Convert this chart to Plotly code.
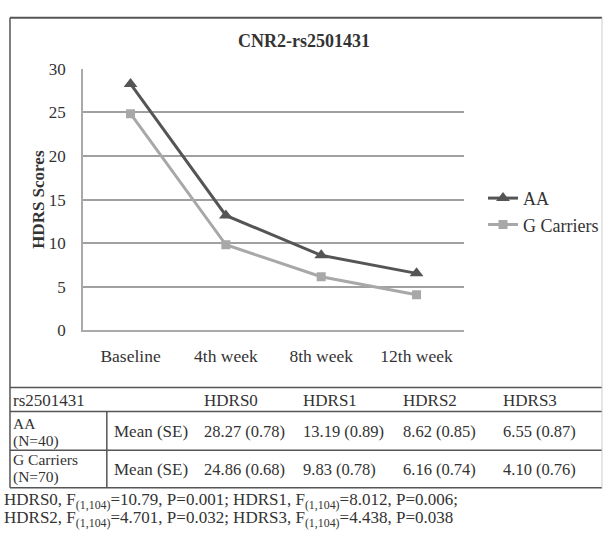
import plotly.graph_objects as go

# ---- data ----
categories = ["Baseline", "4th week", "8th week", "12th week"]
aa_mean = [28.27, 13.19, 8.62, 6.55]
aa_se = [0.78, 0.89, 0.85, 0.87]
gc_mean = [24.86, 9.83, 6.16, 4.10]
gc_se = [0.68, 0.78, 0.74, 0.76]
table_cols = ["HDRS0", "HDRS1", "HDRS2", "HDRS3"]
f_values = ["10.79", "8.012", "4.701", "4.438"]
p_values = ["0.001", "0.006", "0.032", "0.038"]
y_ticks = [0, 5, 10, 15, 20, 25, 30]

W, H = 604, 550
FONT = "Liberation Serif"
TXT = "#333333"


def px(x):
    return x / W


def py(y):
    return 1 - y / H


fig = go.Figure()
fig.add_trace(go.Scatter(
    x=categories, y=aa_mean, name="AA", mode="lines+markers",
    line=dict(color="#555555", width=3),
    marker=dict(symbol="triangle-up", size=12, color="#555555"),
))
fig.add_trace(go.Scatter(
    x=categories, y=gc_mean, name="G Carriers", mode="lines+markers",
    line=dict(color="#a8a8a8", width=3),
    marker=dict(symbol="square", size=9, color="#a8a8a8"),
))

shapes = []
annots = []
line_c = "#555555"


def hline(y, x0=10, x1=603, color=line_c, w=1.5):
    shapes.append(dict(type="line", xref="paper", yref="paper",
                       x0=px(x0), x1=px(x1), y0=py(y), y1=py(y),
                       line=dict(color=color, width=w)))


def vline(x, y0, y1, color=line_c, w=1.5):
    shapes.append(dict(type="line", xref="paper", yref="paper",
                       x0=px(x), x1=px(x), y0=py(y0), y1=py(y1),
                       line=dict(color=color, width=w)))


hline(9, w=2)
for yy in [392, 417, 457, 496]:
    hline(yy)
vline(10, 9, 496)
vline(603, 9, 496, color="#cccccc", w=1)
vline(107, 417, 496)


def text(x, y, s, size=16, xanchor="left", bold=False):
    annots.append(dict(xref="paper", yref="paper", x=px(x), y=py(y),
                       text=f"<b>{s}</b>" if bold else s, showarrow=False,
                       xanchor=xanchor, yanchor="middle", borderpad=0,
                       font=dict(family=FONT, size=size, color=TXT)))


text(305, 33, "CNR2-rs2501431", size=18, xanchor="center", bold=True)

text(12, 405, "rs2501431", size=17)
col_x = [203, 303, 403, 503]
for cx, c in zip(col_x, table_cols):
    text(cx, 405, c, size=17)

rows = [("AA", "(N=40)", aa_mean, aa_se, 438, 429, 447),
        ("G Carriers", "(N=70)", gc_mean, gc_se, 477, 467, 485)]
for lab, n, means, ses, yc, y1, y2 in rows:
    text(12, y1, lab, size=15.5)
    text(12, y2, n, size=15.5)
    text(113, yc, "Mean (SE)", size=17)
    for cx, m, s in zip(col_x, means, ses):
        text(cx, yc, f"{m:.2f} ({s:.2f})", size=16.5)

parts = [f"{c}, F<sub>(1,104)</sub>={f}, P={p}" for c, f, p in zip(table_cols, f_values, p_values)]
text(3, 510, "; ".join(parts[:2]) + ";", size=17)
text(3, 528, "; ".join(parts[2:]), size=17)

fig.update_layout(
    width=W, height=H,
    margin=dict(l=0, r=0, t=0, b=0),
    paper_bgcolor="white", plot_bgcolor="white",
    font=dict(family=FONT, size=17, color=TXT),
    showlegend=True,
    legend=dict(x=px(484), y=py(177), xanchor="left", yanchor="top",
                font=dict(family=FONT, size=18, color=TXT),
                itemwidth=30, tracegroupgap=0, bgcolor="rgba(0,0,0,0)"),
    xaxis=dict(domain=[px(83), px(465)], anchor="y", range=[-0.5, 3.5],
               showgrid=False, showline=True, linecolor="#aaaaaa", linewidth=1.5,
               ticks="", ticklabelstandoff=9,
               tickfont=dict(family=FONT, size=17.5, color=TXT), fixedrange=True),
    yaxis=dict(domain=[py(333), py(62)], anchor="x", range=[0, 30],
               tickvals=y_ticks, showgrid=True, gridcolor="#a0a0a0", gridwidth=1.5,
               showline=True, linecolor="#aaaaaa", linewidth=1.5, zeroline=False,
               ticks="", ticklabelstandoff=12,
               tickfont=dict(family=FONT, size=17, color=TXT),
               title=dict(text="<b>HDRS Scores</b>", standoff=0,
                          font=dict(family=FONT, size=17, color=TXT))),
    shapes=shapes, annotations=annots,
)

fig.write_html("out.html")
